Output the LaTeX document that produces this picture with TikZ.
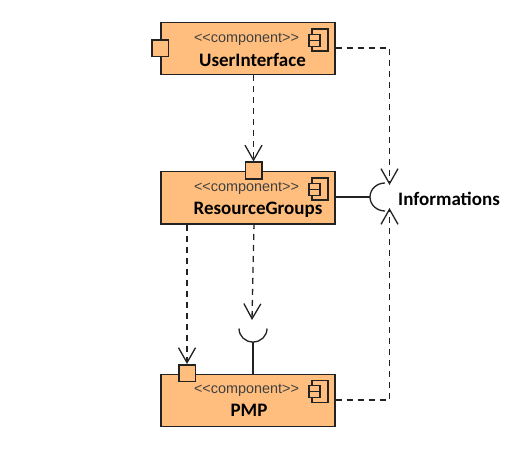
\documentclass[tikz,border=0pt]{standalone}
\usepackage{fontspec}
\setmainfont{Carlito}
\newfontfamily\stereofont{Liberation Sans}
\usetikzlibrary{arrows.meta}
\definecolor{boxfill}{HTML}{FFBE7D}
\definecolor{linegrey}{HTML}{222222}
\tikzset{
  compbox/.style={draw=linegrey,fill=boxfill,line width=1.5pt,minimum width=174pt,minimum height=52pt,inner sep=0pt,anchor=north west},
  portbox/.style={draw=linegrey,fill=boxfill,line width=1.5pt,minimum width=16.5pt,minimum height=16.5pt,inner sep=0pt},
  iconmain/.style={draw=linegrey,fill=boxfill,line width=1.2pt,minimum width=16pt,minimum height=22pt,inner sep=0pt},
  iconsmall/.style={draw=linegrey,fill=boxfill,line width=1.2pt,minimum width=11pt,minimum height=6pt,inner sep=0pt},
  stereo/.style={font=\stereofont\fontsize{14.4}{16}\selectfont,text=black!75,inner sep=0pt},
  cname/.style={font=\bfseries\fontsize{19}{21}\selectfont,text=black,inner sep=0pt},
  dep/.style={draw=linegrey,line width=1.3pt,dash pattern=on 6pt off 5pt,-{Straight Barb[length=15pt,width=17pt,line width=1.3pt]}},
  wire/.style={draw=linegrey,line width=1.3pt},
}
\begin{document}
\begin{tikzpicture}[x=1pt,y=-1pt]
\useasboundingbox (0,0) rectangle (508,449);
\fill[white] (0,0) rectangle (508,449);
% boxes
\node[compbox] (ui) at (160,22) {};
\node[compbox] (rg) at (160,171) {};
\node[compbox] (pmp) at (160,373.5) {};
% ports
\node[portbox] (p1) at (160,48.5) {};
\node[portbox] (p2) at (253.5,170.5) {};
\node[portbox] (p3) at (187,373) {};
% icons
\foreach \n/\y in {ui/40,rg/189,pmp/391.5}{
  \node[iconmain] (\n main) at (320,\y) {};
  \node[iconsmall] (\n top) at (314.5,\y-2.7) {};
  \node[iconsmall] (\n bot) at (314.5,\y+3.2) {};
}
% texts
\node[stereo] (uis) at (246.5,39) {<<component>>};
\node[stereo] (rgs) at (246.5,188) {<<component>>};
\node[stereo] (pmps) at (246.5,390) {<<component>>};
\node[cname] (uin) at (252.5,60) {UserInterface};
\node[cname] (rgn) at (258,210) {ResourceGroups};
\node[cname] (pmpn) at (249,410.5) {PMP};
\node[cname,anchor=west] (info) at (398,199) {Informations};
% interfaces
\coordinate (sockA) at (370,197);
\coordinate (sockB) at (253,342);
\draw[wire] (385,183) .. controls (377,183) and (370,189) .. (sockA) .. controls (370,205) and (377,211) .. (385,211);
\draw[wire] (239,328.5) .. controls (239,336) and (245,342) .. (sockB) .. controls (261,342) and (267,336) .. (267,328.5);
\draw[wire] (rg.east |- sockA) -- (sockA);
\draw[wire] (sockB) -- (sockB |- pmp.north);
% dependencies
\coordinate (tipA) at (389.5,185);
\coordinate (tipB) at (389.5,208);
\coordinate (tipC) at (252,320);
\draw[dep] (p2.north |- ui.south) -- (p2.north);
\draw[dep] (ui.east |- 0,48) -- (389.5,48) -- (tipA);
\draw[dep] (pmp.east |- 0,400) -- (389.5,400) -- (tipB);
\draw[dep] (p3.north |- rg.south) -- (p3.north);
\draw[dep] (254,223) -- (tipC);
\end{tikzpicture}
\end{document}
